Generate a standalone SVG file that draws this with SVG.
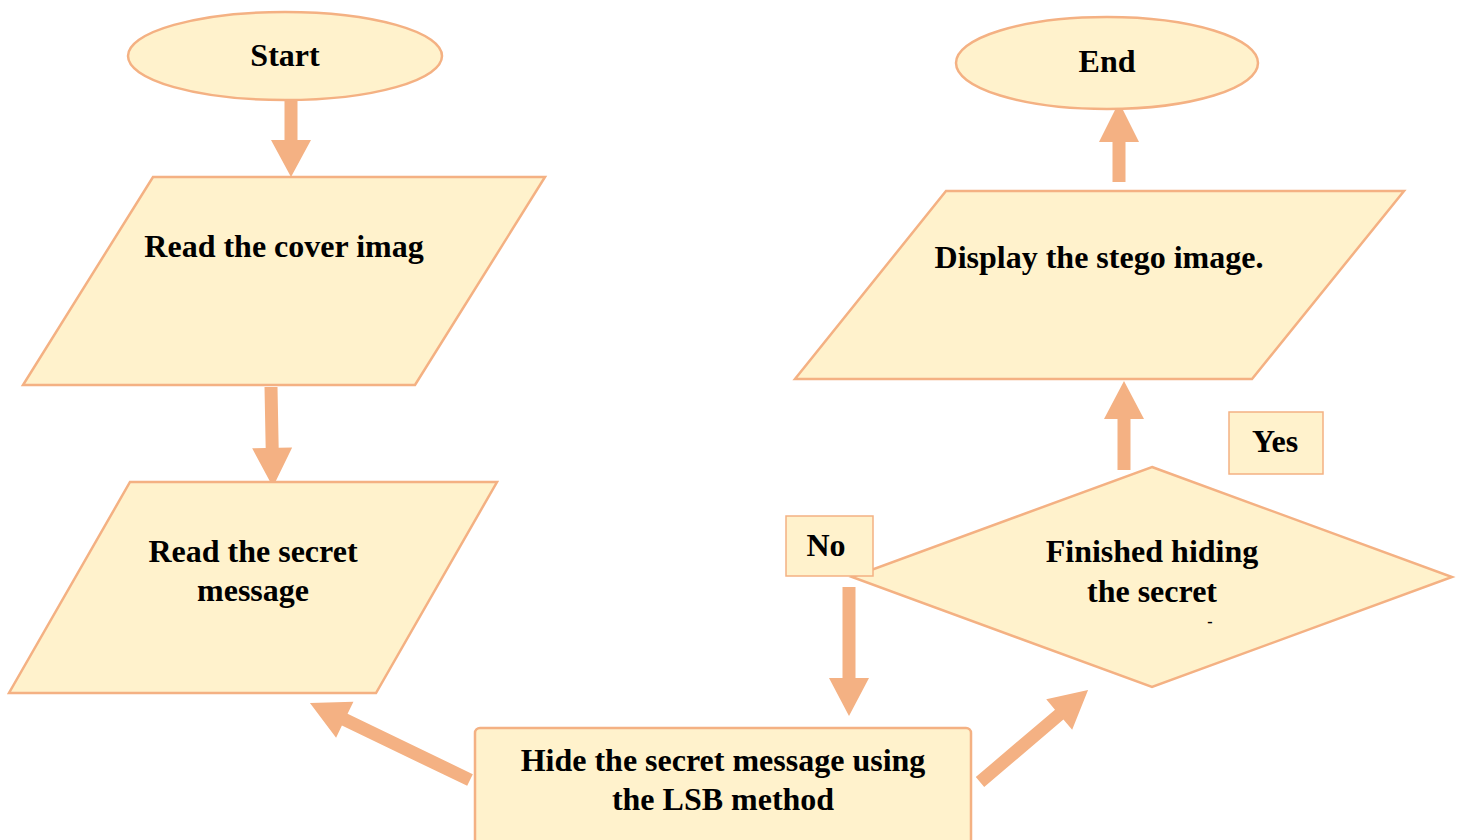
<svg xmlns="http://www.w3.org/2000/svg" width="1461" height="840" viewBox="0 0 1461 840">
<style>
.shape{fill:#FFF2CC;stroke:#F4B183;stroke-width:2.5}
.arrow{fill:#F4B183;stroke:none}
.t{font-family:"Liberation Serif","Times New Roman",serif;font-weight:bold;font-size:32px;fill:#000;text-anchor:middle}
</style>
<rect width="1461" height="840" fill="#fff"/>
<g id="connectors">
<path class="arrow" transform="translate(291,96) rotate(90)" d="M0,-6.5 L44,-6.5 L44,-20 L81,0 L44,20 L44,6.5 L0,6.5 Z"/>
<path class="arrow" transform="translate(271,387) rotate(88.9)" d="M0,-6.5 L61,-6.5 L61,-20 L100,0 L61,20 L61,6.5 L0,6.5 Z"/>
<path class="arrow" transform="translate(470,780) rotate(205.7)" d="M0,-6.5 L139,-6.5 L139,-20 L177.6,0 L139,20 L139,6.5 L0,6.5 Z"/>
<path class="arrow" transform="translate(849,587) rotate(90)" d="M0,-6.5 L91,-6.5 L91,-20 L129,0 L91,20 L91,6.5 L0,6.5 Z"/>
<path class="arrow" transform="translate(980,782) rotate(-40.4)" d="M0,-6.5 L104,-6.5 L104,-20 L141.9,0 L104,20 L104,6.5 L0,6.5 Z"/>
<path class="arrow" transform="translate(1124,470) rotate(-90)" d="M0,-6.5 L51,-6.5 L51,-20 L89,0 L51,20 L51,6.5 L0,6.5 Z"/>
<path class="arrow" transform="translate(1119,182) rotate(-90)" d="M0,-6.5 L40,-6.5 L40,-20 L80,0 L40,20 L40,6.5 L0,6.5 Z"/>
</g>
<g id="start">
<ellipse class="shape" cx="285" cy="56" rx="157" ry="44"/>
<text class="t" x="285" y="66">Start</text>
</g>
<g id="read-cover">
<polygon class="shape" points="153,177 545,177 415,385 23,385"/>
<text class="t" x="284" y="257">Read the cover imag</text>
</g>
<g id="read-secret">
<polygon class="shape" points="130,482 497,482 376,693 9,693"/>
<text class="t" x="253" y="562">Read the secret</text>
<text class="t" x="253" y="601">message</text>
</g>
<g id="hide">
<rect class="shape" x="475" y="728" width="496" height="130" rx="5"/>
<text class="t" x="723" y="771">Hide the secret message using</text>
<text class="t" x="723" y="810">the LSB method</text>
</g>
<g id="decision">
<polygon class="shape" points="1152,467 1452,577 1152,687 852,577"/>
<text class="t" x="1152" y="562">Finished hiding</text>
<text class="t" x="1152" y="602">the secret</text>
<text class="t" x="1210" y="627" style="font-size:16px">-</text>
</g>
<g id="no-label">
<rect class="shape" x="786" y="516" width="87" height="60" style="stroke-width:1.5"/>
<text class="t" x="826" y="556">No</text>
</g>
<g id="yes-label">
<rect class="shape" x="1229" y="412" width="94" height="62" style="stroke-width:1.5"/>
<text class="t" x="1275" y="452">Yes</text>
</g>
<g id="display">
<polygon class="shape" points="946,191 1404,191 1252,379 795,379"/>
<text class="t" x="1099" y="268">Display the stego image.</text>
</g>
<g id="end">
<ellipse class="shape" cx="1107" cy="63" rx="151" ry="46"/>
<text class="t" x="1107" y="72">End</text>
</g>
</svg>
